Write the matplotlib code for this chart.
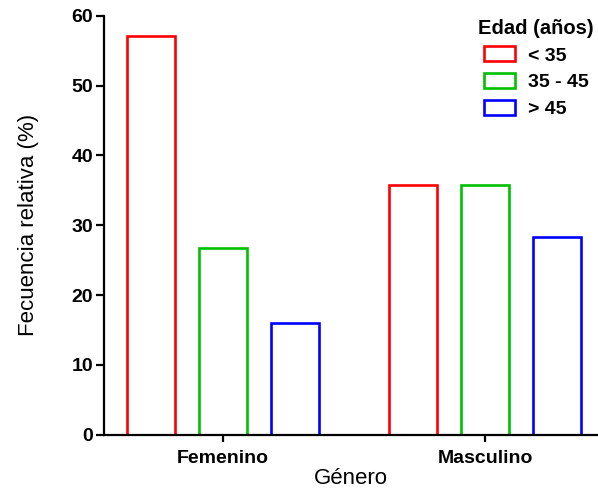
import numpy as np
import matplotlib.pyplot as plt
from matplotlib.patches import Patch

plt.rcParams['font.family'] = ['Liberation Sans', 'DejaVu Sans']

generos = ['Femenino', 'Masculino']
edades = ['< 35', '35 - 45', '> 45']
colores = ['#ff0000', '#00c000', '#0000ff']
menor_35 = [57.1, 35.8]
entre_35_45 = [26.8, 35.8]
mayor_45 = [16.0, 28.3]

series = [menor_35, entre_35_45, mayor_45]

fig = plt.figure(figsize=(5.98, 4.93), dpi=100)
ax = fig.add_axes([0.174, 0.118, 0.824, 0.85])

centros = np.array([0, 3.66])
ancho = 0.67
for i, vals in enumerate(series):
    ax.bar(centros + (i - 1) * 1.0, vals, width=ancho, facecolor='white',
           edgecolor=colores[i], linewidth=1.9, label=edades[i])

ax.set_xlim(-1.66, 5.22)
ax.set_ylim(0, 60)
ax.set_yticks(range(0, 61, 10))
ax.set_xticks(centros)
ax.set_xticklabels(generos)
for s in ['top', 'right']:
    ax.spines[s].set_visible(False)
for s in ['left', 'bottom']:
    ax.spines[s].set_linewidth(1.6)
ax.tick_params(axis='y', length=6, width=1.6, labelsize=14, pad=2)
ax.tick_params(axis='x', length=5, width=1.6, labelsize=14, pad=6)
for lab in ax.get_xticklabels() + ax.get_yticklabels():
    lab.set_fontweight('bold')

ax.set_ylabel('Fecuencia relativa (%)', fontsize=16, labelpad=23)
ax.set_xlabel('Género', fontsize=16, labelpad=1)

handles = [Patch(facecolor='white', edgecolor=c, linewidth=1.9, label=e)
           for c, e in zip(colores, edades)]
leg = ax.legend(handles=handles, title='Edad (años)', loc='upper right',
                bbox_to_anchor=(1.03, 1.035), frameon=False, fontsize=14,
                title_fontproperties={'weight': 'bold', 'size': 14.5},
                handlelength=1.6, handleheight=0.8, labelspacing=0.45,
                handletextpad=0.7)
for t in leg.get_texts():
    t.set_fontweight('bold')

fig.savefig('out.png', dpi=100)
